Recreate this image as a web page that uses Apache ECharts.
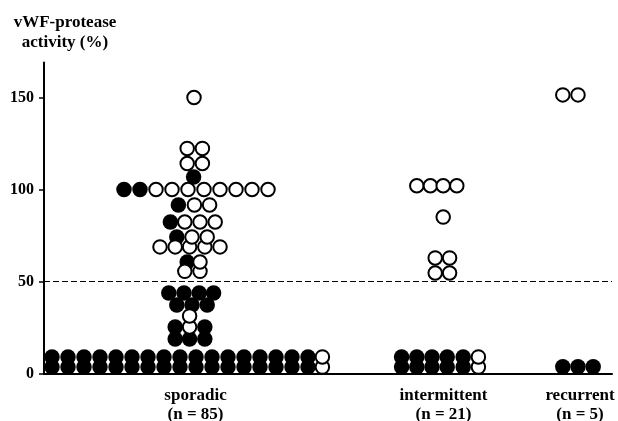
<!DOCTYPE html>
<html><head><meta charset="utf-8">
<script src="https://cdn.jsdelivr.net/npm/echarts@6/dist/echarts.min.js"></script>
<style>html,body{margin:0;padding:0;background:#fff}#c{width:618px;height:421px}</style>
</head><body><div id="c"></div>
<script>
// ---------- data ----------
const categories = ['sporadic', 'intermittent', 'recurrent'];
const groupSizes = [85, 21, 5];
const yTicks = [0, 50, 100, 150];
const threshold = 50;

// rows: [activity value (%), [dot slot offsets inside the group's column]]
const sporadicFilled = [
  [3.5, [-8.5, -7.5, -6.5, -5.5, -4.5, -3.5, -2.5, -1.5, -0.5, 0.5, 1.5, 2.5, 3.5, 4.5, 5.5, 6.5, 7.5]],
  [9, [-8.5, -7.5, -6.5, -5.5, -4.5, -3.5, -2.5, -1.5, -0.5, 0.5, 1.5, 2.5, 3.5, 4.5, 5.5, 6.5, 7.5]],
  [18.8, [-0.8, 0.1, 1.05]],
  [25.3, [-0.8, 1.05]],
  [37.2, [-0.7, 0.25, 1.2]],
  [43.8, [-1.2, -0.25, 0.7, 1.6]],
  [60.6, [-0.05]],
  [74.2, [-0.7]],
  [82.3, [-1.1]],
  [91.6, [-0.6]],
  [100, [-4, -3]],
  [106.8, [0.35]]
];
const sporadicOpen = [
  [3.5, [8.4]],
  [9, [8.4]],
  [25.3, [0.1]],
  [31.3, [0.1]],
  [55.5, [-0.2, 0.75]],
  [60.6, [0.75]],
  [68.8, [-1.75, -0.8, 0.1, 1.05, 2]],
  [74.2, [0.25, 1.2]],
  [82.3, [-0.2, 0.75, 1.7]],
  [91.6, [0.4, 1.35]],
  [100, [-2, -1, 0, 1, 2, 3, 4, 5]],
  [114.1, [-0.05, 0.9]],
  [122.3, [-0.05, 0.9]],
  [150, [0.375]]
];
const intermittentFilled = [
  [3.5, [-2.4, -1.45, -0.5, 0.45, 1.45]],
  [9, [-2.4, -1.45, -0.5, 0.45, 1.45]]
];
const intermittentOpen = [
  [3.5, [2.4]],
  [9, [2.4]],
  [54.6, [-0.3, 0.6]],
  [62.8, [-0.3, 0.6]],
  [85, [0.2]],
  [102, [-1.45, -0.6, 0.2, 1.05]]
];
const recurrentFilled = [
  [3.7, [-0.95, 0, 0.95]]
];
const recurrentOpen = [
  [151.4, [-0.95, 0]]
];

// ---------- layout ----------
const groupCenter = [9, 24.75, 33.375];   // x-axis units (1 unit = one dot slot)
const labelCenter = [9.47, 24.97, 33.5];
const FONT = '"Liberation Serif", "Times New Roman", serif';

function toPoints(rows, g) {
  const out = [];
  rows.forEach(([v, slots]) => slots.forEach(s => out.push([groupCenter[g] + s, v])));
  return out;
}
const filledData = [].concat(toPoints(sporadicFilled, 0), toPoints(intermittentFilled, 1), toPoints(recurrentFilled, 2));
const openData = [].concat(toPoints(sporadicOpen, 0), toPoints(intermittentOpen, 1), toPoints(recurrentOpen, 2));

const chart = echarts.init(document.getElementById('c'), null, {renderer: 'canvas'});
chart.setOption({
  animation: false,
  backgroundColor: '#fff',
  grid: {left: 44, right: 6, top: 62.5, bottom: 47.5, containLabel: false, outerBoundsMode: 'none'},
  xAxis: {
    type: 'value', min: 0, max: 35.5,
    axisLine: {show: true, onZero: false, lineStyle: {color: '#000', width: 2}},
    axisTick: {show: false},
    splitLine: {show: false},
    axisLabel: {
      customValues: labelCenter,
      margin: 13,
      color: '#000', fontFamily: FONT, fontWeight: 'bold', fontSize: 17, lineHeight: 19,
      formatter: function (v) {
        let i = 0, best = Infinity;
        labelCenter.forEach((c, k) => { if (Math.abs(c - v) < best) { best = Math.abs(c - v); i = k; } });
        return categories[i] + '\n(n = ' + groupSizes[i] + ')';
      }
    }
  },
  yAxis: {
    type: 'value', min: 0, max: 169,
    name: 'vWF-protease\nactivity (%)',
    nameLocation: 'end', nameGap: 10,
    nameTextStyle: {color: '#000', fontFamily: FONT, fontWeight: 'bold', fontSize: 17, lineHeight: 20, align: 'center', padding: [0, 0, 0, 42]},
    axisLine: {show: true, lineStyle: {color: '#000', width: 2}},
    axisTick: {show: true, customValues: yTicks, length: 5, lineStyle: {color: '#000', width: 1.5}},
    axisLabel: {customValues: yTicks, margin: 10, color: '#000', fontFamily: FONT, fontWeight: 'bold', fontSize: 16},
    splitLine: {show: false}
  },
  series: [
    {
      type: 'scatter', name: 'filled', data: filledData,
      symbol: 'circle', symbolSize: 15.5,
      itemStyle: {color: '#000', opacity: 1},
      markLine: {
        silent: true, symbol: 'none', label: {show: false},
        lineStyle: {color: '#000', type: [6, 3], width: 1.2},
        data: [{yAxis: threshold}]
      },
      z: 2
    },
    {
      type: 'scatter', name: 'open', data: openData,
      symbol: 'circle', symbolSize: 13.5,
      itemStyle: {color: '#fff', borderColor: '#000', borderWidth: 2, opacity: 1},
      z: 3
    }
  ]
});
</script>
</body></html>
